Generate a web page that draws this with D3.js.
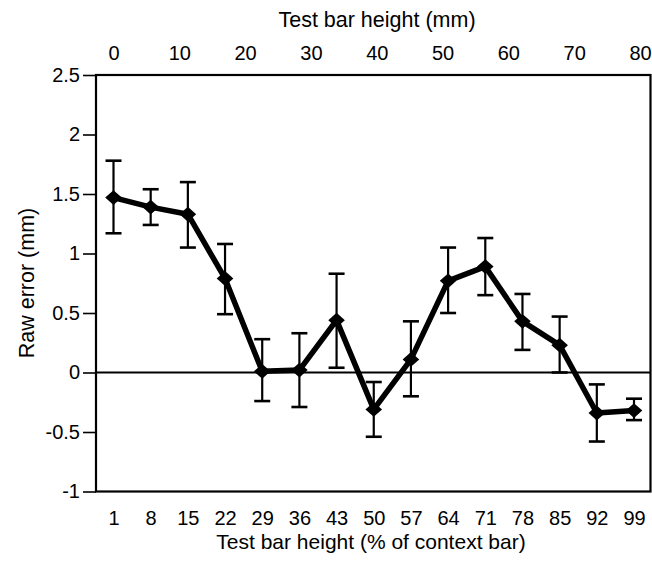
<!DOCTYPE html>
<html>
<head>
<meta charset="utf-8">
<script src="https://cdn.jsdelivr.net/npm/d3@7"></script>
<style>
  body { margin: 0; background: #fff; }
  svg text { font-family: "Liberation Sans", Arial, Helvetica, sans-serif; fill: #000; }
</style>
</head>
<body>
<div id="chart"></div>
<script>
// test bar height as % of the context bar
var pct = [1, 8, 15, 22, 29, 36, 43, 50, 57, 64, 71, 78, 85, 92, 99];
// mean raw error (mm) and error bar ends
var meanErr = [1.47, 1.39, 1.33, 0.79, 0.01, 0.02, 0.44, -0.31, 0.11, 0.77, 0.89, 0.43, 0.23, -0.34, -0.32];
var upperErr = [1.78, 1.54, 1.60, 1.08, 0.28, 0.33, 0.83, -0.08, 0.43, 1.05, 1.13, 0.66, 0.47, -0.10, -0.22];
var lowerErr = [1.17, 1.24, 1.05, 0.49, -0.24, -0.29, 0.04, -0.54, -0.20, 0.50, 0.65, 0.19, 0.00, -0.58, -0.40];
var yTicks = [-1, -0.5, 0, 0.5, 1, 1.5, 2, 2.5];
var mmTicks = [0, 10, 20, 30, 40, 50, 60, 70, 80];

var width = 652,
    height = 563;

// plot frame (window.top is taken, so use other names)
var pLeft = 96, pRight = 650.5, pTop = 75, pBottom = 491.5;

var svg = d3.select("#chart").append("svg")
    .attr("width", width)
    .attr("height", height);

var x = d3.scalePoint()
    .domain(pct)
    .range([113.5, 634]);

var xmm = d3.scaleLinear()
    .domain([0, 80])
    .range([113.5, 640]);

var y = d3.scaleLinear()
    .domain([-1, 2.5])
    .range([pBottom, pTop]);

// frame
svg.append("rect")
    .attr("x", pLeft)
    .attr("y", pTop)
    .attr("width", pRight - pLeft)
    .attr("height", pBottom - pTop)
    .attr("fill", "none")
    .attr("stroke", "#000")
    .attr("stroke-width", 2.2);

// zero line
svg.append("line")
    .attr("x1", pLeft).attr("x2", pRight)
    .attr("y1", y(0)).attr("y2", y(0))
    .attr("stroke", "#000")
    .attr("stroke-width", 1.8);

// axes
svg.append("g")
    .attr("transform", "translate(" + pLeft + ",0)")
    .call(d3.axisLeft(y).tickValues(yTicks).tickSize(13).tickPadding(3)
        .tickFormat(function(d) { return String(d); }));

svg.append("g")
    .attr("transform", "translate(0," + pBottom + ")")
    .call(d3.axisBottom(x).tickSize(0).tickPadding(19));

svg.append("g")
    .attr("transform", "translate(0," + pTop + ")")
    .call(d3.axisTop(xmm).tickValues(mmTicks).tickSize(0).tickPadding(15));

svg.selectAll(".domain").remove();
svg.selectAll(".tick line").attr("stroke", "#000").attr("stroke-width", 1.6);
svg.selectAll(".tick text")
    .attr("font-size", 20)
    .attr("fill", "#000")
    .style("font-family", "'Liberation Sans', Arial, sans-serif");

// axis titles
svg.append("text")
    .attr("x", 371)
    .attr("y", 549)
    .attr("text-anchor", "middle")
    .attr("font-size", 21)
    .text("Test bar height (% of context bar)");

svg.append("text")
    .attr("x", 377)
    .attr("y", 27)
    .attr("text-anchor", "middle")
    .attr("font-size", 21.5)
    .text("Test bar height (mm)");

svg.append("text")
    .attr("transform", "translate(34,283) rotate(-90)")
    .attr("text-anchor", "middle")
    .attr("font-size", 21.5)
    .text("Raw error (mm)");

// error bars
var bars = svg.selectAll(".ebar")
    .data(pct)
    .enter().append("g")
    .attr("class", "ebar")
    .attr("stroke", "#000")
    .attr("stroke-width", 2.2);

bars.append("line")
    .attr("x1", function(d) { return x(d); })
    .attr("x2", function(d) { return x(d); })
    .attr("y1", function(d, i) { return y(upperErr[i]); })
    .attr("y2", function(d, i) { return y(lowerErr[i]); });

bars.append("line")
    .attr("x1", function(d) { return x(d) - 8; })
    .attr("x2", function(d) { return x(d) + 8; })
    .attr("y1", function(d, i) { return y(upperErr[i]); })
    .attr("y2", function(d, i) { return y(upperErr[i]); })
    .attr("stroke-width", 2.6);

bars.append("line")
    .attr("x1", function(d) { return x(d) - 8; })
    .attr("x2", function(d) { return x(d) + 8; })
    .attr("y1", function(d, i) { return y(lowerErr[i]); })
    .attr("y2", function(d, i) { return y(lowerErr[i]); })
    .attr("stroke-width", 2.6);

// mean line
var line = d3.line()
    .x(function(d) { return x(d); })
    .y(function(d, i) { return y(meanErr[i]); });

svg.append("path")
    .datum(pct)
    .attr("d", line)
    .attr("fill", "none")
    .attr("stroke", "#000")
    .attr("stroke-width", 5.5)
    .attr("stroke-linejoin", "round");

// diamond markers
svg.selectAll(".mark")
    .data(pct)
    .enter().append("path")
    .attr("class", "mark")
    .attr("d", d3.symbol().type(d3.symbolSquare).size(110))
    .attr("transform", function(d, i) {
        return "translate(" + x(d) + "," + y(meanErr[i]) + ") scale(1.12,1) rotate(45)";
    })
    .attr("fill", "#000");
</script>
</body>
</html>
